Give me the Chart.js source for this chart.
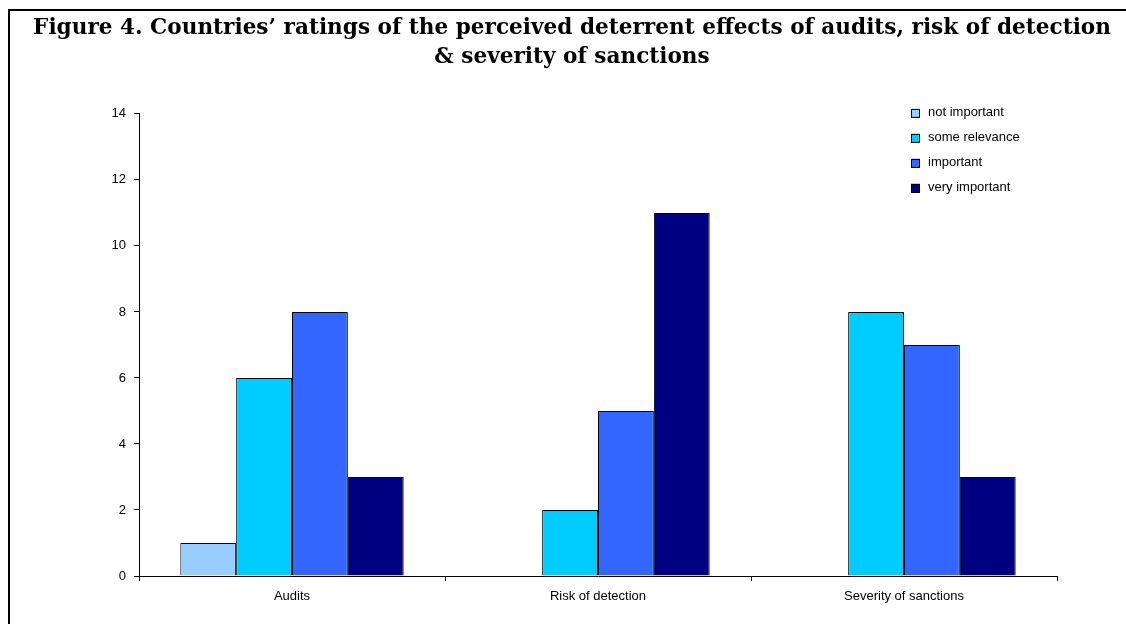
<!DOCTYPE HTML>
<html lang="en">
<head>
    <meta charset="UTF-8">
    <title>Figure 4</title>
    <script src="https://cdn.jsdelivr.net/npm/chart.js"></script>
    <style>
        body {
            margin: 0;
            padding: 0;
            background-color: #fff;
        }
        #wrap {
            position: relative;
            width: 1126px;
            height: 624px;
        }
        /* рамка: только слева и сверху, как на картинке */
        #frame {
            position: absolute;
            left: 8px;
            top: 9px;
            right: 0;
            bottom: 0;
            border-left: 2px solid #000;
            border-top: 2px solid #000;
            pointer-events: none;
        }
    </style>
</head>
<body>
<div id="wrap">
    <canvas id="myChart" width="1126" height="624"></canvas>
    <div id="frame"></div>
</div>

<script>
    // Данные
    var categories = ['Audits', 'Risk of detection', 'Severity of sanctions'];
    var seriesNames = ['not important', 'some relevance', 'important', 'very important'];
    var notImportant = [1, 0, 0];
    var someRelevance = [6, 2, 8];
    var important = [8, 5, 7];
    var veryImportant = [3, 11, 3];
    var yTicks = [0, 2, 4, 6, 8, 10, 12, 14];

    var colors = ['#99CCFF', '#00CCFF', '#3366FF', '#000080'];
    var values = [notImportant, someRelevance, important, veryImportant];

    var datasets = [];
    for (var i = 0; i < seriesNames.length; i++) {
        datasets.push({
            label: seriesNames[i],
            data: values[i],
            backgroundColor: colors[i],
            borderColor: '#000',
            borderWidth: 1,
            barPercentage: 1.0,
            categoryPercentage: 0.73
        });
    }

    // Легенда внутри области графика, справа сверху
    var legendInside = {
        id: 'legendInside',
        afterDraw: function(chart) {
            var ctx = chart.ctx;
            var area = chart.chartArea;
            var x = area.right - 146;
            var y = area.top - 1;
            ctx.save();
            ctx.font = '13px "Liberation Sans", Arial, sans-serif';
            ctx.textBaseline = 'middle';
            chart.data.datasets.forEach(function(ds, i) {
                var cy = y + i * 25;
                ctx.fillStyle = ds.backgroundColor;
                ctx.fillRect(x, cy - 4, 9, 9);
                ctx.strokeStyle = '#000';
                ctx.lineWidth = 1;
                ctx.strokeRect(x + 0.5, cy - 3.5, 8, 8);
                ctx.fillStyle = '#000';
                ctx.fillText(ds.label, x + 17, cy);
            });
            ctx.restore();
        }
    };

    var tickFont = { family: '"Liberation Sans", Arial, sans-serif', size: 13 };

    var ctx = document.getElementById('myChart').getContext('2d');
    var myChart = new Chart(ctx, {
        type: 'bar',
        data: {
            labels: categories,
            datasets: datasets
        },
        options: {
            responsive: false,
            animation: false,
            layout: {
                padding: { left: 18, right: 0, top: 0, bottom: 0 }
            },
            plugins: {
                legend: { display: false },
                tooltip: { enabled: false },
                title: {
                    display: true,
                    text: ['Figure 4. Countries\u2019 ratings of the perceived deterrent effects of audits, risk of detection',
                           '& severity of sanctions'],
                    color: '#000',
                    font: { family: '"DejaVu Serif", Georgia, serif', size: 21.6, weight: 'bold', lineHeight: 1.34 },
                    padding: { top: 14, bottom: 42 }
                }
            },
            scales: {
                x: {
                    grid: {
                        display: true,
                        drawOnChartArea: false,
                        offset: true,
                        color: '#000',
                        tickLength: 5,
                        tickColor: '#000'
                    },
                    border: { display: true, color: '#000', width: 1 },
                    ticks: {
                        color: '#000',
                        padding: 8,
                        font: tickFont
                    },
                    afterFit: function(scale) { scale.height = 48; }
                },
                y: {
                    min: 0,
                    max: 14,
                    afterBuildTicks: function(scale) {
                        scale.ticks = yTicks.map(function(v) { return { value: v }; });
                    },
                    grid: {
                        display: true,
                        drawOnChartArea: false,
                        color: '#000',
                        tickLength: 5,
                        tickColor: '#000'
                    },
                    border: { display: true, color: '#000', width: 1 },
                    ticks: {
                        color: '#000',
                        padding: 8,
                        font: tickFont
                    },
                    afterFit: function(scale) { scale.width = 121; }
                },
                // пустая ось справа, только чтобы оставить место
                yRight: {
                    position: 'right',
                    display: true,
                    grid: { display: false },
                    border: { display: false },
                    ticks: { display: false },
                    afterFit: function(scale) { scale.width = 69; }
                }
            }
        },
        plugins: [legendInside]
    });
</script>
</body>
</html>
